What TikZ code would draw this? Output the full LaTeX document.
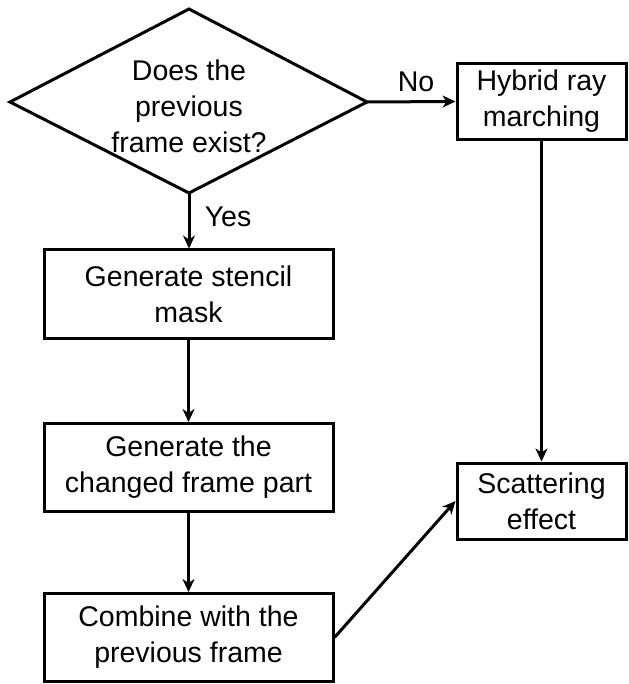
\documentclass[tikz,border=0pt]{standalone}
\usepackage{fontspec}
\setmainfont{Liberation Sans}
\usetikzlibrary{arrows.meta}
\begin{document}
\begin{tikzpicture}[x=1pt,y=-1pt,
  every node/.style={font=\fontsize{28.5}{36}\selectfont},
  box/.style={draw=black,line width=3pt,rectangle,inner sep=0pt,align=center},
  leftbox/.style={box,minimum width=289pt,minimum height=88pt},
  rightbox/.style={box,minimum width=169pt,minimum height=76pt},
  conn/.style={line width=3pt,-{Stealth[length=13pt,width=12pt,inset=4pt]}},
  lbl/.style={inner sep=0pt}]
\useasboundingbox (0,0) rectangle (628,684);
% diamond
\coordinate (dt) at (189,9);
\coordinate (dl) at (10,102);
\coordinate (dr) at (367,102);
\coordinate (db) at (189,193);
\draw[line width=3pt,line join=miter] (dt) -- (dr) -- (db) -- (dl) -- cycle;
\node[align=center,inner sep=0pt] (dtext) at (189,106) {Does the\\previous\\frame exist?};
% boxes
\node[rightbox] (hyb) at (541.5,101.5) {Hybrid ray\\marching};
\node[leftbox] (sten) at (188.5,294) {Generate stencil\\mask};
\node[leftbox] (chg) at (188.5,467.5) {Generate the\\changed frame part};
\node[leftbox] (comb) at (188.5,637.5) {Combine with the\\previous frame};
\node[rightbox] (scat) at (541.5,501) {Scattering\\effect};
% connectors
\draw[conn] (dr) -- (hyb.west);
\draw[conn] (db) -- (db |- sten.north);
\draw[conn] (sten.south) -- (chg.north);
\draw[conn] (chg.south) -- (comb.north);
\draw[conn] (hyb.south) -- (scat.north);
\draw[conn] (comb.east) -- (scat.west);
% labels
\node[lbl] (no) at (416,82) {No};
\node[lbl] (yes) at (228,217) {Yes};
\end{tikzpicture}
\end{document}
